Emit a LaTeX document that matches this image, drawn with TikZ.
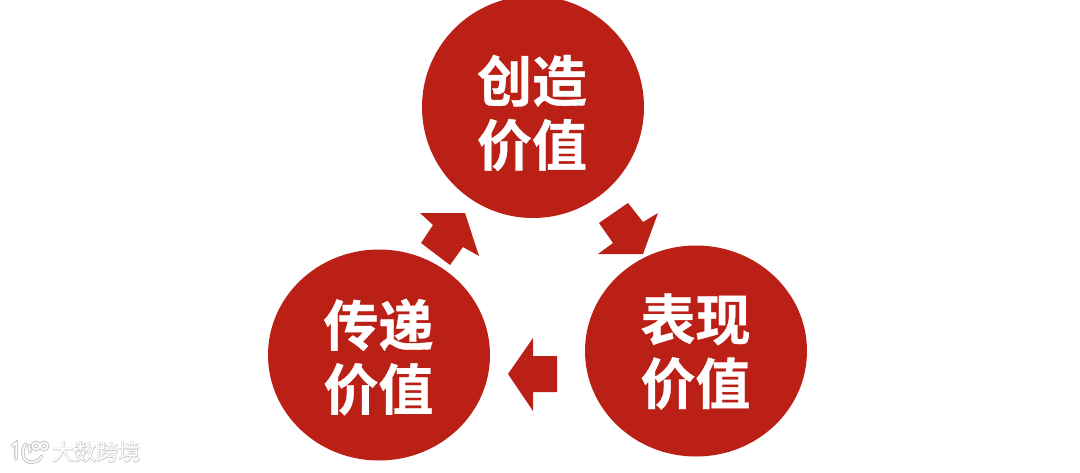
\documentclass[tikz,border=0pt]{standalone}
\usepackage{fontspec}
\newfontfamily\cjkb{Noto Sans CJK SC Bold}[FakeBold=0.6]
\newfontfamily\cjkr{Noto Sans CJK SC}
\newfontfamily\cjkh{Noto Sans CJK SC}[FakeBold=4]
\definecolor{wine}{HTML}{BA2015}
\definecolor{halo}{HTML}{C8C8C8}
\usetikzlibrary{shapes.geometric}
\tikzset{
  x=1pt,y=-1pt,
  disc/.style={ellipse,fill=wine,draw=none,minimum width=222pt,minimum height=211pt,inner sep=0pt},
  lbl/.style={text=white,font=\cjkb\fontsize{55}{64}\selectfont,align=center,inner sep=0pt},
  flow/.style={fill=wine,draw=none},
  wm/.style={font=\fontsize{22}{24}\selectfont,inner sep=0pt,anchor=west},
  logoh/.style={draw=halo,line width=3.6pt,line cap=round},
  logow/.style={draw=white,line width=1.5pt,line cap=round}
}
\newcommand{\logopaths}[1]{%
  \draw[#1] (12,446) -- (16,443) -- (16,459);
  \draw[#1] (26,444) .. controls (21,450) and (22,460) .. (29,462) .. controls (35,463) and (40,460) .. (42,456);
  \draw[#1] (29,445) -- (30,452);
  \draw[#1] (36,446) circle[radius=3.6];
  \draw[#1] (44,446) circle[radius=3.6];
}
\begin{document}
\begin{tikzpicture}
\useasboundingbox (0,0) rectangle (1080,472);
\fill[white] (0,0) rectangle (1080,472);
\node[disc,minimum height=222pt] (top) at (533,107) {};
\node[disc] (right) at (696,351) {};
\node[disc] (left) at (379,355) {};
\node[lbl] (toplbl) at (532,113) {创造\\价值};
\node[lbl] (rightlbl) at (695.5,351.5) {表现\\价值};
\node[lbl] (leftlbl) at (378.5,357) {传递\\价值};
\fill[flow] (420,213) -- (465,213) -- (479,256) -- (463,247) -- (450,265) -- (421,243) -- (433,225) -- cycle;
\fill[flow] (628,203) -- (643,222) -- (658,213) -- (643,254) -- (598,254) -- (613,243) -- (599,223) -- cycle;
\fill[flow] (533,338) -- (533,356) -- (557,356) -- (557,392) -- (533,392) -- (533,411) -- (508,374) -- cycle;
\logopaths{logoh}
\logopaths{logow}
\node[wm,text=halo] (markhalo) at (52,452) {\cjkh 大数跨境};
\node[wm,text=white] (mark) at (52,452) {\cjkr 大数跨境};
\end{tikzpicture}
\end{document}
